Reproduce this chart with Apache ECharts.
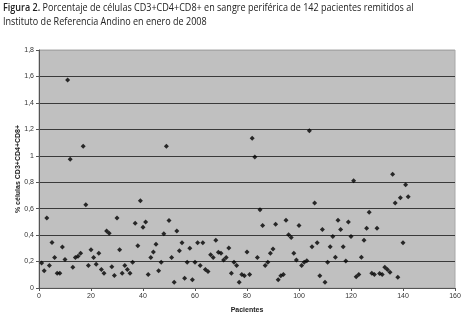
<!DOCTYPE html>
<html>
<head>
<meta charset="utf-8">
<script src="https://cdn.jsdelivr.net/npm/echarts@6/dist/echarts.min.js"></script>
<style>
  html, body { margin: 0; padding: 0; background: #fff; }
  #chart { width: 464px; height: 319px; }
</style>
</head>
<body>
<div id="chart"></div>
<script>
// % CD3+CD4+CD8+ per patient (1..142)
var pacientes = [];
var valores = [
    0.19, 0.13, 0.53, 0.17, 0.345, 0.23, 0.112, 0.112, 0.31, 0.215,
    1.573, 0.974, 0.157, 0.23, 0.24, 0.262, 1.073, 0.63, 0.17, 0.29,
    0.23, 0.18, 0.262, 0.14, 0.112, 0.432, 0.414, 0.16, 0.095, 0.53,
    0.29, 0.112, 0.17, 0.14, 0.112, 0.195, 0.49, 0.32, 0.66, 0.46,
    0.50, 0.103, 0.23, 0.272, 0.33, 0.13, 0.195, 0.41, 1.073, 0.51,
    0.23, 0.043, 0.432, 0.282, 0.342, 0.073, 0.195, 0.30, 0.062, 0.195,
    0.342, 0.17, 0.342, 0.14, 0.125, 0.252, 0.23, 0.362, 0.27, 0.262,
    0.212, 0.23, 0.302, 0.112, 0.195, 0.17, 0.043, 0.103, 0.092, 0.272,
    0.103, 1.133, 0.991, 0.23, 0.592, 0.472, 0.17, 0.195, 0.262, 0.295,
    0.482, 0.062, 0.092, 0.103, 0.512, 0.402, 0.382, 0.262, 0.212, 0.472,
    0.17, 0.195, 0.207, 1.19, 0.312, 0.642, 0.342, 0.092, 0.442, 0.043,
    0.195, 0.312, 0.39, 0.232, 0.512, 0.442, 0.312, 0.205, 0.50, 0.39,
    0.811, 0.085, 0.103, 0.232, 0.362, 0.452, 0.572, 0.112, 0.103, 0.452,
    0.11, 0.103, 0.157, 0.14, 0.12, 0.861, 0.642, 0.082, 0.682, 0.342,
    0.781, 0.69
];
var tituloLinea1 = '{b|Figura 2.} Porcentaje de células CD3+CD4+CD8+ en sangre periférica de 142 pacientes remitidos al';
var tituloLinea2 = 'Instituto de Referencia Andino en enero de 2008';
var nombreX = 'Pacientes';
var nombreY = '% células CD3+CD4+CD8+';

var puntos = [];
for (var i = 0; i < valores.length; i++) {
    pacientes.push(i + 1);
    puntos.push([pacientes[i], valores[i]]);
}

var chart = echarts.init(document.getElementById('chart'), null, { renderer: 'canvas' });

var fuente = '"Open Sans", "Noto Sans", sans-serif';
var gris = ['#3a3a3a', '#3a3a3a', '#3a3a3a', '#3a3a3a', '#3a3a3a',
            '#3a3a3a', '#3a3a3a', '#3a3a3a', '#3a3a3a', '#a8a8a8'];

var option = {
    animation: false,
    backgroundColor: '#fff',
    graphic: [
        {
            type: 'text', left: 3, top: 3, scaleX: 0.86,
            style: {
                text: tituloLinea1,
                font: '10.5px ' + fuente,
                fill: '#222',
                rich: { b: { fontWeight: 600, fontFamily: fuente, fontSize: 10.5, fill: '#222' } }
            }
        },
        {
            type: 'text', left: 3, top: 17, scaleX: 0.86,
            style: { text: tituloLinea2, font: '10.5px ' + fuente, fill: '#222' }
        }
    ],
    grid: {
        left: 39, right: 9, top: 50, bottom: 28,
        show: true,
        backgroundColor: '#c0c0c0',
        borderColor: '#a8a8a8',
        borderWidth: 1
    },
    xAxis: {
        type: 'value',
        min: 0, max: 160, interval: 20,
        name: nombreX,
        nameLocation: 'middle',
        nameGap: 19,
        nameMoveOverlap: false,
        nameTextStyle: { fontFamily: 'Liberation Sans', fontSize: 7, fontWeight: 'bold', color: '#222' },
        axisLine: { lineStyle: { color: '#555', width: 1 } },
        axisTick: { show: true, length: 3, lineStyle: { color: '#555' } },
        axisLabel: { fontFamily: 'Liberation Sans', fontSize: 7, color: '#333', margin: 5 },
        splitLine: { show: false }
    },
    yAxis: {
        type: 'value',
        min: 0, max: 1.8, interval: 0.2,
        name: nombreY,
        nameLocation: 'middle',
        nameGap: 17,
        nameMoveOverlap: false,
        nameTextStyle: { fontFamily: 'Liberation Sans', fontSize: 7, fontWeight: 'bold', color: '#222' },
        axisLine: { show: true, lineStyle: { color: '#555', width: 1 } },
        axisTick: { show: true, length: 3, lineStyle: { color: '#555' } },
        axisLabel: {
            fontFamily: 'Liberation Sans', fontSize: 7, color: '#333', margin: 5,
            formatter: function (v) {
                return String(Math.round(v * 10) / 10).replace('.', ',');
            }
        },
        splitLine: { show: true, lineStyle: { color: gris, width: 1 } }
    },
    series: [{
        type: 'scatter',
        data: puntos,
        symbol: 'diamond',
        symbolSize: 5,
        itemStyle: { color: '#000' }
    }]
};

chart.setOption(option);
</script>
</body>
</html>
